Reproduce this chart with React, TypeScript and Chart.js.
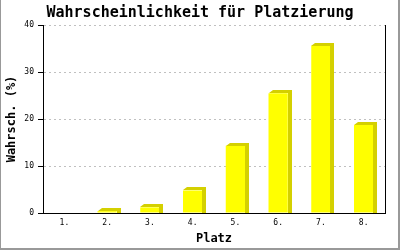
import { useEffect, useRef } from "react";
import { Chart, registerables } from "chart.js";

Chart.register(...registerables);

const categories = ["1.", "2.", "3.", "4.", "5.", "6.", "7.", "8."];
const probabilities = [0, 0.4, 1.2, 4.8, 14.3, 25.5, 35.6, 18.7];
const yTicks = [0, 10, 20, 30, 40];
const titleText = "Wahrscheinlichkeit für Platzierung";
const xTitle = "Platz";
const yTitle = "Wahrsch. (%)";

const MONO = "'DejaVu Sans Mono', 'Liberation Mono', monospace";

const depthPlugin = {
  id: "depth3d",
  afterDatasetsDraw(chart: any) {
    const ctx = chart.ctx;
    const meta = chart.getDatasetMeta(0);
    const dx = 4;
    const dy = 3;
    ctx.save();
    ctx.fillStyle = "#d4d000";
    meta.data.forEach((bar: any) => {
      const { x, y, base, width } = bar.getProps(["x", "y", "base", "width"], true);
      if (base - y < 0.5) return;
      const l = Math.round(x - width / 2);
      const r = Math.round(x + width / 2);
      const t = Math.round(y);
      const b = Math.round(base);
      ctx.beginPath();
      ctx.moveTo(l, t);
      ctx.lineTo(l + dx, t - dy);
      ctx.lineTo(r + dx, t - dy);
      ctx.lineTo(r + dx, b);
      ctx.lineTo(r, b);
      ctx.lineTo(r, t);
      ctx.closePath();
      ctx.fill();
    });
    ctx.restore();
  },
  afterDraw(chart: any) {
    const ctx = chart.ctx;
    const { top, bottom, right } = chart.chartArea;
    ctx.save();
    ctx.strokeStyle = "#000000";
    ctx.lineWidth = 1;
    ctx.beginPath();
    ctx.moveTo(Math.round(right) + 0.5, Math.round(top));
    ctx.lineTo(Math.round(right) + 0.5, Math.round(bottom));
    ctx.stroke();
    // outer frame
    ctx.fillStyle = "#999999";
    ctx.fillRect(0, 0, 1, 250);
    ctx.fillRect(398, 0, 2, 250);
    ctx.fillRect(0, 248, 400, 2);
    ctx.restore();
  },
};

export default function App() {
  const ref = useRef<HTMLCanvasElement | null>(null);

  useEffect(() => {
    document.body.style.margin = "0";
    const canvas = ref.current;
    if (!canvas) return;
    const chart = new Chart(canvas, {
      type: "bar",
      data: {
        labels: categories,
        datasets: [
          {
            data: probabilities,
            backgroundColor: "#ffff00",
            borderWidth: 0,
            barPercentage: 0.45,
            categoryPercentage: 1,
          },
        ],
      },
      options: {
        responsive: false,
        animation: false,
        devicePixelRatio: 1,
        layout: { padding: { left: 0, right: 0, top: 0, bottom: 0 } },
        plugins: {
          legend: { display: false },
          tooltip: { enabled: false },
          title: {
            display: true,
            text: titleText,
            color: "#000000",
            font: { family: MONO, size: 15, weight: "bold", lineHeight: 1.2 },
            padding: { top: 4, bottom: 3 },
          },
        },
        scales: {
          x: {
            grid: { display: false, drawTicks: false },
            border: { display: true, color: "#000000", width: 1 },
            ticks: {
              color: "#000000",
              font: { family: MONO, size: 8 },
              padding: 5,
              maxRotation: 0,
            },
            title: {
              display: true,
              text: xTitle,
              color: "#000000",
              font: { family: MONO, size: 12, weight: "bold", lineHeight: 1.2 },
              padding: { top: 0, bottom: 4 },
            },
            afterFit: (s: any) => {
              s.height = 37;
            },
          },
          y: {
            min: 0,
            max: 40,
            afterBuildTicks: (s: any) => {
              s.ticks = yTicks.map((v) => ({ value: v }));
            },
            grid: {
              color: "#c0c0c0",
              lineWidth: 1,
              drawTicks: true,
              tickLength: 5,
              tickColor: "#000000",
              tickWidth: 1,
            },
            border: { display: true, color: "#000000", width: 1, dash: [2, 3] },
            ticks: {
              color: "#000000",
              font: { family: MONO, size: 8 },
              padding: 4,
            },
            title: {
              display: true,
              text: yTitle,
              color: "#000000",
              font: { family: MONO, size: 12, weight: "bold", lineHeight: 1.2 },
              padding: { top: 5, bottom: 0 },
            },
            afterFit: (s: any) => {
              s.width = 43;
            },
          },
          yRight: {
            position: "right",
            min: 0,
            max: 40,
            grid: { display: false, drawTicks: false },
            border: { display: false },
            ticks: { display: false },
            afterFit: (s: any) => {
              s.width = 15;
            },
          },
        },
      },
      plugins: [depthPlugin],
    });
    return () => chart.destroy();
  }, []);

  return (
    <div style={{ width: 400, height: 250, background: "#ffffff" }}>
      <canvas ref={ref} width={400} height={250} />
    </div>
  );
}
